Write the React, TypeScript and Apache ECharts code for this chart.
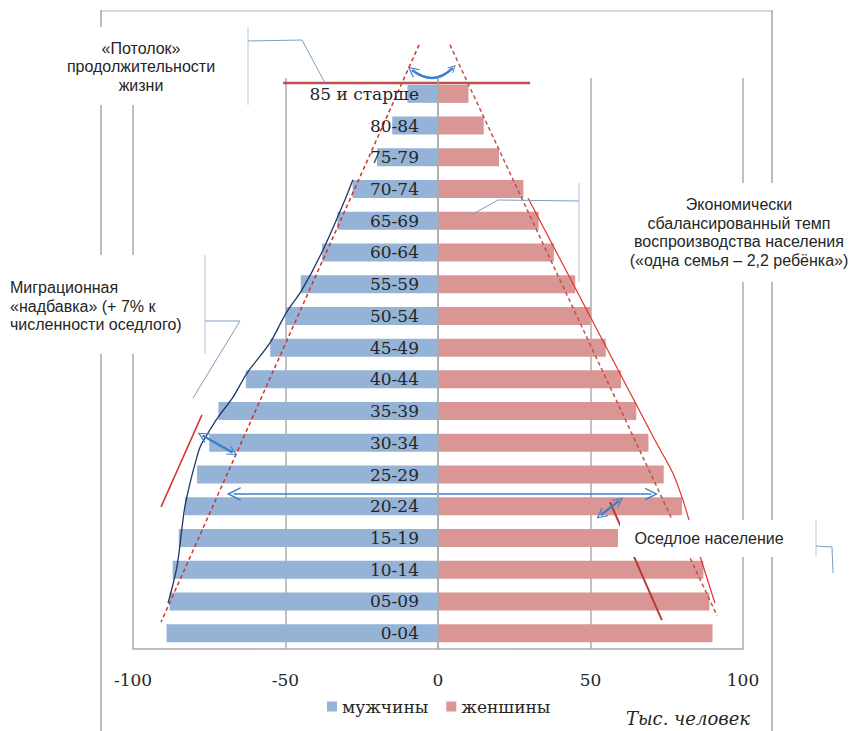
import React, { useEffect, useRef } from 'react';
import * as echarts from 'echarts';

const categories = ['0-04', '05-09', '10-14', '15-19', '20-24', '25-29', '30-34', '35-39', '40-44', '45-49', '50-54', '55-59', '60-64', '65-69', '70-74', '75-79', '80-84', '85 и старше'];
const menValues = [-89, -88, -87, -85, -83, -79, -75, -72, -63, -55, -50, -45, -38, -33, -28, -20, -15, -10];
const womenValues = [90, 89, 87, 59, 80, 74, 69, 65, 60, 55, 50, 45, 38, 33, 28, 20, 15, 10];
const seriesNames = ['мужчины', 'женшины'];
const xMin = -100;
const xMax = 100;
const xStep = 50;

// annotation geometry in data units: x = thousand people, y = age rows from the bottom (row i spans i..i+1)
const leftTrendLine = [[-6.2, 19.05], [-90.8, 0.85]];
const rightTrendLine = [[3.9, 19.05], [91.5, 1.05]];
const settledCurve = [[29.5, 14.22], [49.8, 10.5], [71.1, 6.59], [77.0, 5.55], [80.3, 4.7], [82.3, 4.07], [85.9, 2.93], [90.8, 1.45]];
const migrationCurve = [[-27.9, 14.79], [-30.5, 14.16], [-37.7, 12.58], [-44.6, 11.32], [-49.8, 10.59], [-55.1, 9.65], [-62.6, 8.7], [-67.2, 7.94], [-72.1, 7.31], [-75.4, 6.81], [-78.0, 6.37], [-79.3, 5.96], [-81.3, 5.23], [-83.0, 4.48], [-83.9, 3.85], [-85.6, 2.59], [-88.5, 1.45]];
const migrationTick = [[-77.4, 7.38], [-90.8, 4.48]];
const settledTick = [[56.4, 4.63], [73.4, 0.91]];
const ceilingLine = [[-50.8, 17.84], [30.2, 17.84]];
const ceilingArrow = [[-8.5, 18.25], [4.9, 18.32]];
const migrationArrow = [[-77.2, 6.73], [-67.3, 6.19]];
const spanArrow = [[-67.0, 4.89], [70.0, 4.89]];
const settledArrow = [[53.4, 4.22], [59.3, 4.67]];

const SANS = '"Liberation Sans", Arial, sans-serif';
const SERIF = '"DejaVu Serif", serif';
const TEXT = '#262626';
const GRID = '#ABABAB';
const ARROW = '#3F7FC8';
const CHEVRON = 'path://M0,10 L5,0 L10,10 L8.8,10 L5,2.4 L1.2,10 Z';

const GRID_LEFT = 133;
const GRID_RIGHT = 106;
const CHART_W = 849;

export default function App() {
  const ref = useRef<HTMLDivElement>(null);

  useEffect(() => {
    document.body.style.margin = '0';
    const chart = echarts.init(ref.current!, null, { renderer: 'svg' });

    const plotWidth = CHART_W - GRID_LEFT - GRID_RIGHT;
    // move the category axis onto the x = 0 line
    const zeroOffset = -plotWidth * (0 - xMin) / (xMax - xMin);

    const lineSeries = (data: number[][], color: string, width: number, type: any = 'solid', smooth: any = false) => ({
      type: 'line', xAxisIndex: 0, yAxisIndex: 1, data, symbol: 'none', clip: false, smooth, silent: true,
      lineStyle: { color, width, type }, z: 3,
    });
    const arrowSeries = (coords: number[][], width: number, size: number[], curveness = 0) => ({
      type: 'lines', coordinateSystem: 'cartesian2d', xAxisIndex: 0, yAxisIndex: 1, clip: false, silent: true, z: 4,
      symbol: [CHEVRON, CHEVRON], symbolSize: size,
      lineStyle: { color: ARROW, width, curveness, opacity: 1 },
      data: [{ coords }],
    });

    const hline = (x1: number, y1: number, x2: number, y2: number, stroke: string, lineWidth: number, z = 1) => ({
      type: 'line', z, silent: true, shape: { x1, y1, x2, y2 }, style: { stroke, lineWidth },
    });
    const poly = (points: number[][], stroke: string, z = 102) => ({
      type: 'polyline', z, silent: true, shape: { points }, style: { stroke, lineWidth: 1, fill: null },
    });
    const box = (x: number, y: number, width: number, height: number) => ({
      type: 'rect', z: 100, silent: true, shape: { x, y, width, height }, style: { fill: '#ffffff' },
    });
    const label = (x: number, y: number, text: string, align: string) => ({
      type: 'text', z: 101, silent: true, x, y,
      style: { text, fill: TEXT, font: `16px ${SANS}`, textAlign: align, textVerticalAlign: 'middle', lineHeight: 18.5 },
    });

    const option: any = {
      animation: false,
      grid: { left: GRID_LEFT, right: GRID_RIGHT, top: 78, bottom: 82, containLabel: false },
      legend: {
        data: seriesNames, left: 327, top: 698, padding: 0, itemWidth: 10, itemHeight: 10, itemGap: 18, icon: 'rect',
        selectedMode: false,
        textStyle: { fontFamily: SERIF, fontSize: 17, color: TEXT },
      },
      xAxis: {
        type: 'value', min: xMin, max: xMax, interval: xStep,
        axisLine: { show: true, lineStyle: { color: GRID, width: 1.5 } },
        axisTick: { show: false },
        axisLabel: { margin: 22, fontFamily: SERIF, fontSize: 17, color: TEXT },
        splitLine: { show: true, lineStyle: { color: GRID, width: 1.5 } },
      },
      yAxis: [
        {
          type: 'category', data: categories, z: 10, position: 'left', offset: zeroOffset,
          axisLine: { show: true, onZero: false, lineStyle: { color: GRID, width: 1.5 } },
          axisTick: { show: false },
          axisLabel: { margin: 19, fontFamily: SERIF, fontSize: 17, color: TEXT },
        },
        { type: 'value', min: 0, max: 18, show: false },
      ],
      series: [
        { name: seriesNames[0], type: 'bar', data: menValues, barWidth: 18, barGap: '-100%', itemStyle: { color: '#95B3D7' }, silent: true },
        { name: seriesNames[1], type: 'bar', data: womenValues, barWidth: 18, barGap: '-100%', itemStyle: { color: '#D99694' }, silent: true },
        lineSeries(leftTrendLine, '#D0342C', 1.5, [4, 3]),
        lineSeries(rightTrendLine, '#C0504D', 1.5, [4, 3]),
        lineSeries(settledCurve, '#E8302A', 1.2, 'solid', 0.2),
        lineSeries(migrationCurve, '#1F3864', 1.3, 'solid', 0.3),
        lineSeries(migrationTick, '#D0342C', 1.5),
        lineSeries(settledTick, '#B83B38', 2),
        lineSeries(ceilingLine, '#C0504D', 2.5),
        arrowSeries(ceilingArrow, 2.5, [11, 8], -0.44),
        arrowSeries(migrationArrow, 2.5, [11, 10]),
        arrowSeries(spanArrow, 1.5, [14, 13]),
        arrowSeries(settledArrow, 2.5, [11, 10]),
      ],
      graphic: [
        hline(101, 11, 772, 11, '#DADADA', 2),
        hline(101, 10, 101, 731, '#A6A6A6', 1.5),
        hline(772, 10, 772, 731, '#A6A6A6', 1.5),
        box(20, 27, 224, 78),
        box(0, 255, 200, 99),
        box(600, 183, 249, 99),
        box(620, 520, 180, 37),
        hline(248, 27, 248, 105, '#C3D1E5', 1.2, 102),
        hline(205, 255, 205, 354, '#C3D1E5', 1.2, 102),
        hline(579, 183, 579, 282, '#C3D1E5', 1.2, 102),
        hline(816, 520, 816, 556, '#C3D1E5', 1.2, 102),
        poly([[248, 41], [302, 40], [325, 83]], '#7F9CC2'),
        poly([[205, 321], [240, 321], [193, 398]], '#7F9CC2'),
        poly([[579, 201], [498, 200], [471, 215]], '#7F9CC2'),
        poly([[816, 546], [832, 547], [833, 573]], '#7F9CC2'),
        label(141, 66.5, '«Потолок»\nпродолжительности\nжизни', 'center'),
        label(10, 306, 'Миграционная\n«надбавка» (+ 7% к\nчисленности оседлого)', 'left'),
        label(739, 232.5, 'Экономически\nсбалансированный темп\nвоспроизводства населения\n(«одна семья – 2,2 ребёнка»)', 'center'),
        label(709, 538, 'Оседлое население', 'center'),
        {
          type: 'text', z: 101, silent: true, x: 688, y: 718,
          style: { text: 'Тыс. человек', fill: TEXT, font: `italic 18px ${SERIF}`, textAlign: 'center', textVerticalAlign: 'middle' },
        },
      ],
    };

    chart.setOption(option);
    return () => chart.dispose();
  }, []);

  return <div ref={ref} style={{ width: 849, height: 731 }} />;
}
